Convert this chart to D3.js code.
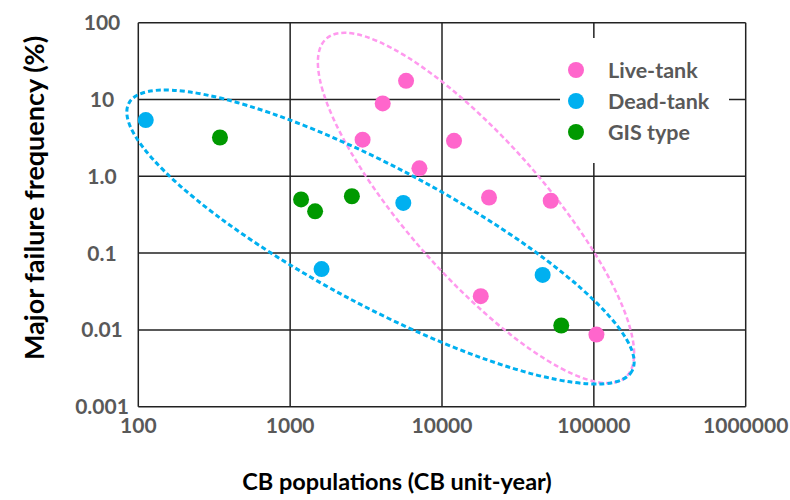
<!DOCTYPE html>
<html>
<head>
<meta charset="utf-8">
<script src="https://cdn.jsdelivr.net/npm/d3@7"></script>
<style>
  body { margin: 0; background: #fff; }
  svg { font-family: Lato, "Open Sans", sans-serif; }
</style>
</head>
<body>
<div id="chart"></div>
<script>
// Datos
const liveTank = [
    [4070, 8.9], [3000, 3.0], [5800, 17.5], [12000, 2.9], [7100, 1.27],
    [20400, 0.53], [52000, 0.48], [18000, 0.0275], [104000, 0.0087]
];
const deadTank = [[112, 5.4], [5560, 0.45], [1610, 0.062], [46000, 0.052]];
const gisType = [[345, 3.2], [1180, 0.50], [1460, 0.35], [2550, 0.55], [61000, 0.0114]];

const seriesNames = ["Live-tank", "Dead-tank", "GIS type"];
const seriesColors = ["#ff66cc", "#00b0f0", "#009900"];

const xTicks = [100, 1000, 10000, 100000, 1000000];
const yTicks = [0.001, 0.01, 0.1, 1, 10, 100];
const yTickLabels = ["0.001", "0.01", "0.1", "1.0", "10", "100"];

// Elipses: extremos del eje mayor (a, b) y un extremo del eje menor (c)
const blueEllipse = { a: [178600, 0.00293], b: [86.7, 8.95], c: [2407, 0.0261] };
const pinkEllipse = { a: [162100, 0.00242], b: [1730, 61.9], c: [7740, 0.1] };

const width = 790, height = 500;
const plot = { left: 138.3, right: 745.7, top: 22.7, bottom: 406.7 };

const svg = d3.select("#chart")
    .append("svg")
    .attr("width", width)
    .attr("height", height);

const x = d3.scaleLog().domain([100, 1000000]).range([plot.left, plot.right]);
const y = d3.scaleLog().domain([0.001, 100]).range([plot.bottom, plot.top]);

// Rejilla
svg.append("g").selectAll("line")
    .data(xTicks)
    .enter()
    .append("line")
    .attr("x1", d => x(d)).attr("x2", d => x(d))
    .attr("y1", plot.top).attr("y2", plot.bottom)
    .attr("stroke", "#222").attr("stroke-width", 1.5);

svg.append("g").selectAll("line")
    .data(yTicks)
    .enter()
    .append("line")
    .attr("x1", plot.left).attr("x2", plot.right)
    .attr("y1", d => y(d)).attr("y2", d => y(d))
    .attr("stroke", "#222").attr("stroke-width", 1.5);

// Etiquetas de los ejes
svg.append("g").selectAll("text")
    .data(xTicks)
    .enter()
    .append("text")
    .attr("x", d => x(d))
    .attr("y", 433)
    .attr("text-anchor", "middle")
    .attr("fill", "#595959")
    .style("font-size", "21px")
    .style("font-weight", "bold")
    .text(d => d3.format("d")(d));

svg.append("g").selectAll("text")
    .data(yTicks)
    .enter()
    .append("text")
    .attr("x", 102)
    .attr("y", d => y(d))
    .attr("dy", ".36em")
    .attr("text-anchor", "middle")
    .attr("fill", "#595959")
    .style("font-size", "21px")
    .style("font-weight", "bold")
    .text((d, i) => yTickLabels[i]);

// Elipses punteadas
function drawEllipse(e, color, sw, dash) {
    const ax = x(e.a[0]), ay = y(e.a[1]);
    const bx = x(e.b[0]), by = y(e.b[1]);
    const cx = (ax + bx) / 2, cy = (ay + by) / 2;
    const rx = Math.hypot(ax - bx, ay - by) / 2;
    const ry = Math.hypot(x(e.c[0]) - cx, y(e.c[1]) - cy);
    const angle = Math.atan2(ay - by, ax - bx) * 180 / Math.PI;
    svg.append("ellipse")
        .attr("cx", cx).attr("cy", cy)
        .attr("rx", rx).attr("ry", ry)
        .attr("transform", `rotate(${angle},${cx},${cy})`)
        .attr("fill", "none")
        .attr("stroke", color)
        .attr("stroke-width", sw)
        .attr("stroke-dasharray", dash);
}
drawEllipse(pinkEllipse, "#ff99ee", 2.5, "5,3");
drawEllipse(blueEllipse, "#00b0f0", 3, "5,3");

// Puntos
[liveTank, deadTank, gisType].forEach((series, i) => {
    svg.append("g").selectAll("circle")
        .data(series)
        .enter()
        .append("circle")
        .attr("cx", d => x(d[0]))
        .attr("cy", d => y(d[1]))
        .attr("r", 8)
        .attr("fill", seriesColors[i]);
});

// Leyenda
const legend = svg.append("g");
legend.append("rect")
    .attr("x", 560).attr("y", 38)
    .attr("width", 169).attr("height", 125)
    .attr("fill", "#fff");
seriesNames.forEach((name, i) => {
    legend.append("circle")
        .attr("cx", 576).attr("cy", 70 + i * 31)
        .attr("r", 8)
        .attr("fill", seriesColors[i]);
    legend.append("text")
        .attr("x", 608).attr("y", 70 + i * 31)
        .attr("dy", ".36em")
        .attr("fill", "#595959")
        .style("font-size", "21.5px")
        .style("font-weight", "bold")
        .text(name);
});

// Títulos de ejes
svg.append("text")
    .attr("x", 397).attr("y", 490)
    .attr("text-anchor", "middle")
    .attr("fill", "#000")
    .style("font-size", "23.5px")
    .style("font-weight", "bold")
    .text("CB populations (CB unit-year)");

svg.append("text")
    .attr("transform", "translate(44,198) rotate(-90)")
    .attr("text-anchor", "middle")
    .attr("fill", "#000")
    .style("font-size", "27px")
    .style("font-weight", "bold")
    .text("Major failure frequency (%)");
</script>
</body>
</html>
